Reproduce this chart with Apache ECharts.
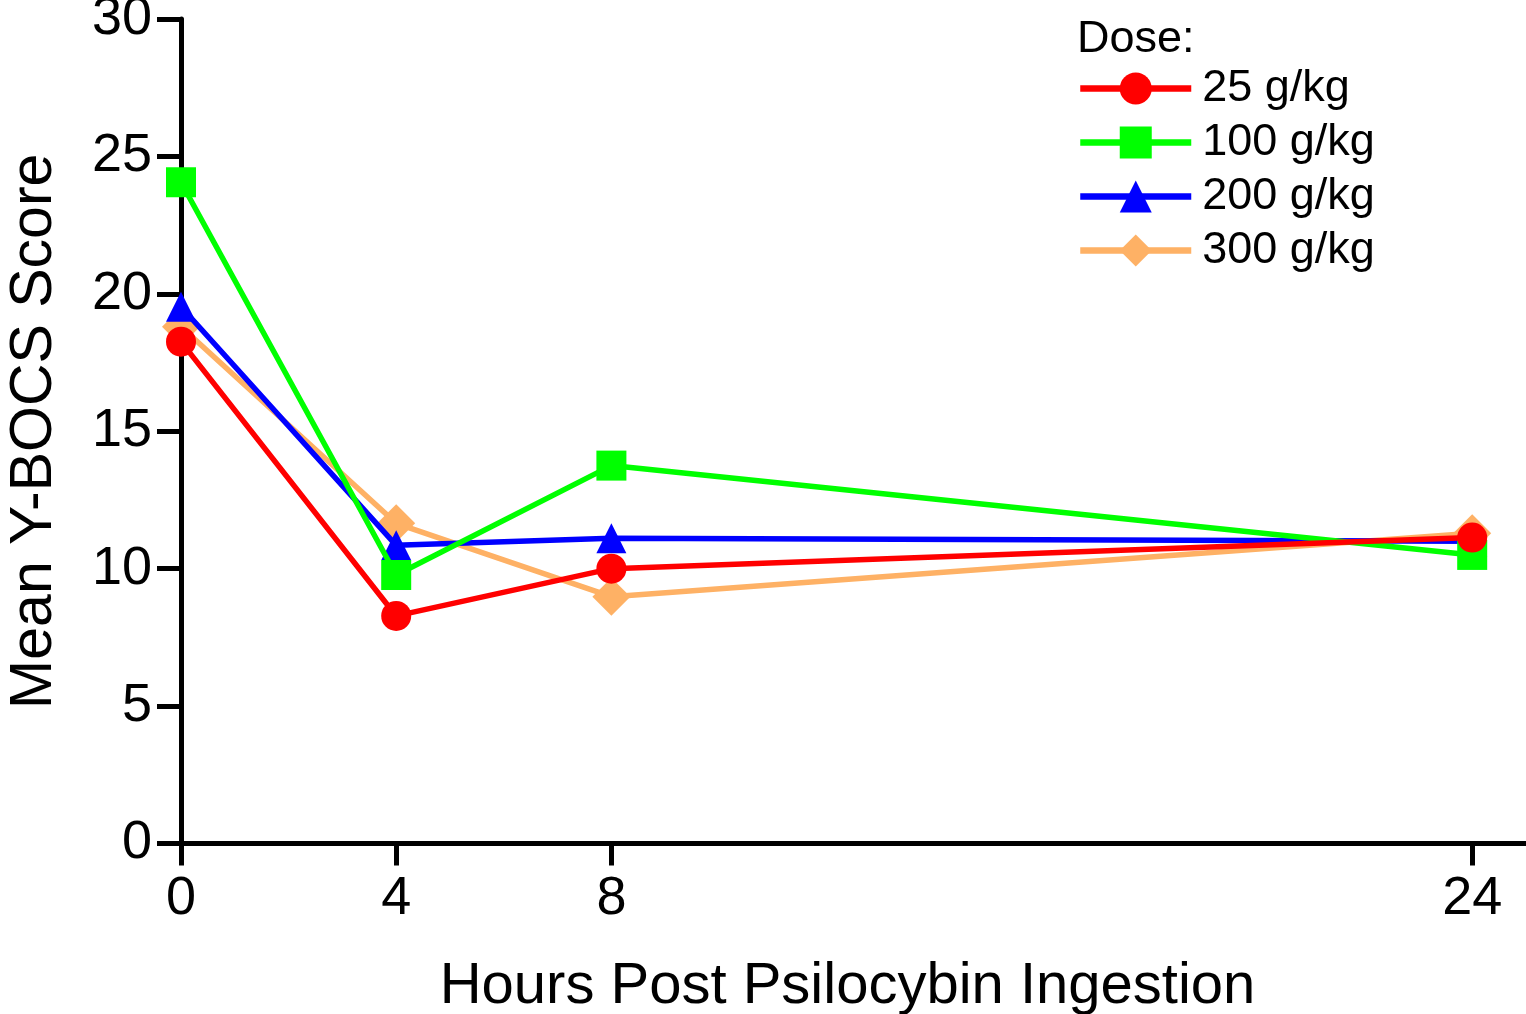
<!DOCTYPE html>
<html>
<head>
<meta charset="utf-8">
<script src="https://cdn.jsdelivr.net/npm/echarts@6/dist/echarts.min.js"></script>
<style>
html,body{margin:0;padding:0;background:#fff;}
#main{width:1526px;height:1014px;}
</style>
</head>
<body>
<div id="main"></div>
<script>
// ---- data ----
var hours = [0, 4, 8, 24];
var xTickValues = [0, 4, 8, 24];
var seriesNames = ['25 g/kg', '100 g/kg', '200 g/kg', '300 g/kg'];
var dose25 = [18.26, 8.28, 10.0, 11.13];
var dose100 = [24.06, 9.77, 13.75, 10.5];
var dose200 = [19.53, 10.85, 11.11, 11.0];
var dose300 = [18.8, 11.65, 8.98, 11.29];

var FONT = 'Liberation Sans, Arial, Helvetica, sans-serif';

function pairs(vals) {
  return hours.map(function (h, i) { return [h, vals[i]]; });
}

function mk(name, vals, color, symbol, size, z) {
  return {
    name: name,
    type: 'line',
    data: pairs(vals),
    symbol: symbol,
    symbolSize: size,
    z: z,
    lineStyle: { color: color, width: 5.5 },
    itemStyle: { color: color, borderWidth: 0 },
    emphasis: { disabled: true },
    animation: false
  };
}

var chart = echarts.init(document.getElementById('main'), null, { renderer: 'canvas' });
chart.setOption({
  backgroundColor: '#ffffff',
  animation: false,
  title: {
    text: 'Dose:',
    left: 1077,
    top: 17,
    padding: 0,
    textStyle: { fontFamily: FONT, fontSize: 45, fontWeight: 'normal', color: '#000' }
  },
  legend: {
    data: seriesNames,
    orient: 'vertical',
    left: 1077,
    top: 66,
    padding: 0,
    itemWidth: 111,
    itemHeight: 40,
    itemGap: 9,
    selectedMode: false,
    lineStyle: { width: 6.5 },
    textStyle: { fontFamily: FONT, fontSize: 45, color: '#000', padding: [0, 0, 0, 6] }
  },
  grid: { left: 181, right: 0, top: 19, bottom: 170.5, containLabel: false, outerBoundsMode: 'none' },
  xAxis: {
    type: 'value',
    min: 0,
    max: 25,
    name: 'Hours Post Psilocybin Ingestion',
    nameLocation: 'middle',
    nameGap: 114,
    nameTextStyle: { fontFamily: FONT, fontSize: 58, color: '#000', padding: [0, 12, 0, 0] },
    axisLine: { show: true, onZero: false, lineStyle: { color: '#000', width: 5 } },
    axisTick: { show: true, customValues: xTickValues, length: 22, lineStyle: { color: '#000', width: 5 } },
    axisLabel: { customValues: xTickValues, margin: 29, fontFamily: FONT, fontSize: 54, color: '#000' },
    splitLine: { show: false }
  },
  yAxis: {
    type: 'value',
    min: 0,
    max: 30,
    interval: 5,
    name: 'Mean Y-BOCS Score',
    nameLocation: 'middle',
    nameGap: 117,
    nameTextStyle: { fontFamily: FONT, fontSize: 59, color: '#000' },
    axisLine: { show: true, lineStyle: { color: '#000', width: 5 } },
    axisTick: { show: true, length: 24, lineStyle: { color: '#000', width: 5 } },
    axisLabel: { margin: 29, fontFamily: FONT, fontSize: 54, color: '#000' },
    splitLine: { show: false }
  },
  series: [
    mk(seriesNames[0], dose25, '#ff0000', 'circle', 30, 5),
    mk(seriesNames[1], dose100, '#00ff00', 'rect', 30, 4),
    mk(seriesNames[2], dose200, '#0000ff', 'triangle', 30, 3),
    mk(seriesNames[3], dose300, '#feb165', 'diamond', 38, 2)
  ]
});
</script>
</body>
</html>
